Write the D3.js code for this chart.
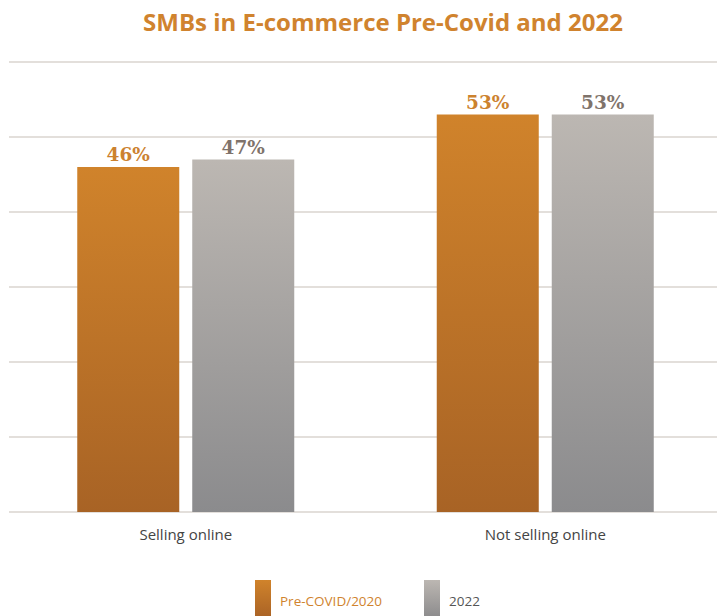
<!DOCTYPE html>
<html><head><meta charset="utf-8">
<script src="https://cdn.jsdelivr.net/npm/d3@7"></script>
<style>body{margin:0;background:#fff;}svg{display:block;}</style>
</head><body>
<script>
const categories = ["Selling online", "Not selling online"];
const seriesNames = ["Pre-COVID/2020", "2022"];
const preCovid = [46, 53];
const y2022 = [47, 53];
const gridTicks = [0, 10, 20, 30, 40, 50, 60];

const W = 717, H = 616;
const svg = d3.select("body").append("svg").attr("width", W).attr("height", H);
const defs = svg.append("defs");
function grad(id, top, bottom) {
  const g = defs.append("linearGradient").attr("id", id).attr("x1", 0).attr("y1", 0).attr("x2", 0).attr("y2", 1);
  g.append("stop").attr("offset", "0%").attr("stop-color", top);
  g.append("stop").attr("offset", "100%").attr("stop-color", bottom);
}
grad("gOrange", "#d0832b", "#a86325");
grad("gGray", "#bcb7b2", "#8b8b8d");
grad("gOrangeL", "#d0832b", "#ab6426");
grad("gGrayL", "#bcb7b2", "#8e8d8e");

const y = d3.scaleLinear().domain([0, 60]).range([512, 62]);
const x0 = d3.scaleBand().domain(categories).range([6, 725]).padding(0);
const x1 = d3.scaleBand().domain(seriesNames).range([-108.5, 108.5]).paddingInner(0.113).paddingOuter(0);

// gridlines
svg.append("g").selectAll("line").data(gridTicks).join("line")
  .attr("x1", 9).attr("x2", W).attr("y1", d => y(d)).attr("y2", d => y(d))
  .attr("stroke", "#e3dfdb").attr("stroke-width", 2);

// title
svg.append("text").attr("x", 383).attr("y", 31).attr("text-anchor", "middle")
  .attr("font-family", "Open Sans").attr("font-weight", "bold").attr("font-size", 24)
  .attr("fill", "#d0832e").text("SMBs in E-commerce Pre-Covid and 2022");

const data = [];
categories.forEach((c, i) => {
  data.push({cat: c, s: seriesNames[0], v: preCovid[i]});
  data.push({cat: c, s: seriesNames[1], v: y2022[i]});
});

const fills = {"Pre-COVID/2020": "url(#gOrange)", "2022": "url(#gGray)"};
const labCol = {"Pre-COVID/2020": "#cc822f", "2022": "#7f736b"};

const cx = c => x0(c) + x0.bandwidth() / 2;

svg.append("g").selectAll("rect").data(data).join("rect")
  .attr("x", d => cx(d.cat) + x1(d.s))
  .attr("width", x1.bandwidth())
  .attr("y", d => y(d.v))
  .attr("height", d => y(0) - y(d.v))
  .attr("fill", d => fills[d.s]);

svg.append("g").selectAll("text").data(data).join("text")
  .attr("x", d => cx(d.cat) + x1(d.s) + x1.bandwidth() / 2)
  .attr("y", d => y(d.v) - 6)
  .attr("text-anchor", "middle")
  .attr("font-family", "DejaVu Serif").attr("font-weight", "bold").attr("font-size", 18.5)
  .attr("fill", d => labCol[d.s])
  .text(d => d.v + "%");

// category labels
svg.append("g").selectAll("text").data(categories).join("text")
  .attr("x", d => cx(d)).attr("y", 540).attr("text-anchor", "middle")
  .attr("font-family", "Open Sans").attr("font-size", 15).attr("fill", "#444")
  .text(d => d);

// legend
const leg = [{name: seriesNames[0], x: 255, fill: "url(#gOrangeL)", col: "#d0832e"},
             {name: seriesNames[1], x: 424, fill: "url(#gGrayL)", col: "#555"}];
const lg = svg.append("g").selectAll("g").data(leg).join("g");
lg.append("rect").attr("x", d => d.x).attr("y", 580).attr("width", 16).attr("height", 36).attr("fill", d => d.fill);
lg.append("text").attr("x", d => d.x + 25).attr("y", 606)
  .attr("font-family", "Open Sans").attr("font-size", 13.5).attr("fill", d => d.col).text(d => d.name);
</script>
</body></html>
